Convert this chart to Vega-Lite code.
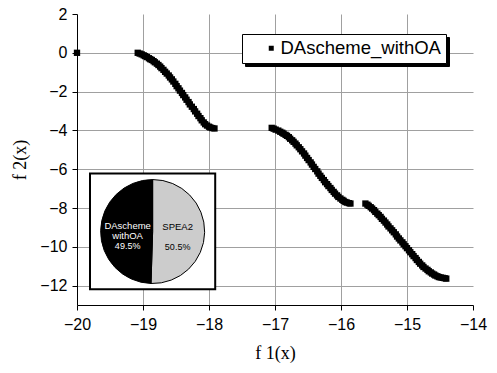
{
  "$schema": "https://vega.github.io/schema/vega-lite/v6.json",
  "autosize": {"type": "none"},
  "width": 396,
  "height": 291,
  "padding": {"left": 77, "top": 14, "right": 24, "bottom": 68},
  "background": "white",
  "config": {
    "view": {"stroke": null},
    "axis": {
      "domainColor": "black",
      "domainWidth": 1,
      "tickColor": "black",
      "tickWidth": 1,
      "gridColor": "#a0a0a0",
      "gridWidth": 1,
      "labelFont": "Liberation Sans",
      "labelFontSize": 16,
      "labelColor": "black",
      "titleFont": "Liberation Serif",
      "titleFontSize": 18,
      "titleFontWeight": "normal",
      "titleColor": "black"
    }
  },
  "datasets": {
    "front": [
      {"series": "DAscheme_withOA", "f1": -20.0, "f2": 0.0},
      {"series": "DAscheme_withOA", "f1": -19.08, "f2": 0.0},
      {"series": "DAscheme_withOA", "f1": -19.05, "f2": -0.04},
      {"series": "DAscheme_withOA", "f1": -19.02, "f2": -0.08},
      {"series": "DAscheme_withOA", "f1": -18.99, "f2": -0.13},
      {"series": "DAscheme_withOA", "f1": -18.968, "f2": -0.17},
      {"series": "DAscheme_withOA", "f1": -18.94, "f2": -0.22},
      {"series": "DAscheme_withOA", "f1": -18.91, "f2": -0.28},
      {"series": "DAscheme_withOA", "f1": -18.89, "f2": -0.33},
      {"series": "DAscheme_withOA", "f1": -18.866, "f2": -0.37},
      {"series": "DAscheme_withOA", "f1": -18.84, "f2": -0.43},
      {"series": "DAscheme_withOA", "f1": -18.82, "f2": -0.49},
      {"series": "DAscheme_withOA", "f1": -18.79, "f2": -0.56},
      {"series": "DAscheme_withOA", "f1": -18.766, "f2": -0.63},
      {"series": "DAscheme_withOA", "f1": -18.74, "f2": -0.71},
      {"series": "DAscheme_withOA", "f1": -18.72, "f2": -0.79},
      {"series": "DAscheme_withOA", "f1": -18.69, "f2": -0.88},
      {"series": "DAscheme_withOA", "f1": -18.665, "f2": -0.98},
      {"series": "DAscheme_withOA", "f1": -18.64, "f2": -1.07},
      {"series": "DAscheme_withOA", "f1": -18.61, "f2": -1.17},
      {"series": "DAscheme_withOA", "f1": -18.59, "f2": -1.27},
      {"series": "DAscheme_withOA", "f1": -18.563, "f2": -1.37},
      {"series": "DAscheme_withOA", "f1": -18.54, "f2": -1.48},
      {"series": "DAscheme_withOA", "f1": -18.51, "f2": -1.6},
      {"series": "DAscheme_withOA", "f1": -18.49, "f2": -1.72},
      {"series": "DAscheme_withOA", "f1": -18.463, "f2": -1.83},
      {"series": "DAscheme_withOA", "f1": -18.44, "f2": -1.95},
      {"series": "DAscheme_withOA", "f1": -18.41, "f2": -2.07},
      {"series": "DAscheme_withOA", "f1": -18.39, "f2": -2.18},
      {"series": "DAscheme_withOA", "f1": -18.361, "f2": -2.3},
      {"series": "DAscheme_withOA", "f1": -18.34, "f2": -2.42},
      {"series": "DAscheme_withOA", "f1": -18.31, "f2": -2.54},
      {"series": "DAscheme_withOA", "f1": -18.29, "f2": -2.66},
      {"series": "DAscheme_withOA", "f1": -18.26, "f2": -2.78},
      {"series": "DAscheme_withOA", "f1": -18.23, "f2": -2.9},
      {"series": "DAscheme_withOA", "f1": -18.21, "f2": -3.02},
      {"series": "DAscheme_withOA", "f1": -18.18, "f2": -3.14},
      {"series": "DAscheme_withOA", "f1": -18.159, "f2": -3.26},
      {"series": "DAscheme_withOA", "f1": -18.13, "f2": -3.37},
      {"series": "DAscheme_withOA", "f1": -18.11, "f2": -3.48},
      {"series": "DAscheme_withOA", "f1": -18.08, "f2": -3.59},
      {"series": "DAscheme_withOA", "f1": -18.058, "f2": -3.68},
      {"series": "DAscheme_withOA", "f1": -18.03, "f2": -3.75},
      {"series": "DAscheme_withOA", "f1": -18.0, "f2": -3.81},
      {"series": "DAscheme_withOA", "f1": -17.98, "f2": -3.85},
      {"series": "DAscheme_withOA", "f1": -17.95, "f2": -3.88},
      {"series": "DAscheme_withOA", "f1": -17.917, "f2": -3.9},
      {"series": "DAscheme_withOA", "f1": -17.05, "f2": -3.87},
      {"series": "DAscheme_withOA", "f1": -17.02, "f2": -3.91},
      {"series": "DAscheme_withOA", "f1": -16.99, "f2": -3.96},
      {"series": "DAscheme_withOA", "f1": -16.95, "f2": -4.01},
      {"series": "DAscheme_withOA", "f1": -16.92, "f2": -4.07},
      {"series": "DAscheme_withOA", "f1": -16.89, "f2": -4.12},
      {"series": "DAscheme_withOA", "f1": -16.87, "f2": -4.17},
      {"series": "DAscheme_withOA", "f1": -16.84, "f2": -4.23},
      {"series": "DAscheme_withOA", "f1": -16.818, "f2": -4.28},
      {"series": "DAscheme_withOA", "f1": -16.79, "f2": -4.35},
      {"series": "DAscheme_withOA", "f1": -16.77, "f2": -4.43},
      {"series": "DAscheme_withOA", "f1": -16.74, "f2": -4.51},
      {"series": "DAscheme_withOA", "f1": -16.718, "f2": -4.59},
      {"series": "DAscheme_withOA", "f1": -16.69, "f2": -4.68},
      {"series": "DAscheme_withOA", "f1": -16.67, "f2": -4.77},
      {"series": "DAscheme_withOA", "f1": -16.64, "f2": -4.87},
      {"series": "DAscheme_withOA", "f1": -16.616, "f2": -4.97},
      {"series": "DAscheme_withOA", "f1": -16.59, "f2": -5.08},
      {"series": "DAscheme_withOA", "f1": -16.56, "f2": -5.19},
      {"series": "DAscheme_withOA", "f1": -16.54, "f2": -5.3},
      {"series": "DAscheme_withOA", "f1": -16.514, "f2": -5.42},
      {"series": "DAscheme_withOA", "f1": -16.49, "f2": -5.53},
      {"series": "DAscheme_withOA", "f1": -16.46, "f2": -5.65},
      {"series": "DAscheme_withOA", "f1": -16.44, "f2": -5.76},
      {"series": "DAscheme_withOA", "f1": -16.414, "f2": -5.88},
      {"series": "DAscheme_withOA", "f1": -16.39, "f2": -5.99},
      {"series": "DAscheme_withOA", "f1": -16.36, "f2": -6.11},
      {"series": "DAscheme_withOA", "f1": -16.34, "f2": -6.23},
      {"series": "DAscheme_withOA", "f1": -16.313, "f2": -6.34},
      {"series": "DAscheme_withOA", "f1": -16.29, "f2": -6.45},
      {"series": "DAscheme_withOA", "f1": -16.26, "f2": -6.56},
      {"series": "DAscheme_withOA", "f1": -16.24, "f2": -6.67},
      {"series": "DAscheme_withOA", "f1": -16.211, "f2": -6.77},
      {"series": "DAscheme_withOA", "f1": -16.19, "f2": -6.87},
      {"series": "DAscheme_withOA", "f1": -16.16, "f2": -6.97},
      {"series": "DAscheme_withOA", "f1": -16.14, "f2": -7.07},
      {"series": "DAscheme_withOA", "f1": -16.111, "f2": -7.17},
      {"series": "DAscheme_withOA", "f1": -16.09, "f2": -7.26},
      {"series": "DAscheme_withOA", "f1": -16.06, "f2": -7.35},
      {"series": "DAscheme_withOA", "f1": -16.04, "f2": -7.43},
      {"series": "DAscheme_withOA", "f1": -16.009, "f2": -7.51},
      {"series": "DAscheme_withOA", "f1": -15.98, "f2": -7.58},
      {"series": "DAscheme_withOA", "f1": -15.96, "f2": -7.63},
      {"series": "DAscheme_withOA", "f1": -15.934, "f2": -7.69},
      {"series": "DAscheme_withOA", "f1": -15.91, "f2": -7.72},
      {"series": "DAscheme_withOA", "f1": -15.88, "f2": -7.75},
      {"series": "DAscheme_withOA", "f1": -15.857, "f2": -7.77},
      {"series": "DAscheme_withOA", "f1": -15.63, "f2": -7.77},
      {"series": "DAscheme_withOA", "f1": -15.6, "f2": -7.83},
      {"series": "DAscheme_withOA", "f1": -15.58, "f2": -7.89},
      {"series": "DAscheme_withOA", "f1": -15.55, "f2": -7.96},
      {"series": "DAscheme_withOA", "f1": -15.528, "f2": -8.03},
      {"series": "DAscheme_withOA", "f1": -15.5, "f2": -8.11},
      {"series": "DAscheme_withOA", "f1": -15.48, "f2": -8.2},
      {"series": "DAscheme_withOA", "f1": -15.45, "f2": -8.29},
      {"series": "DAscheme_withOA", "f1": -15.428, "f2": -8.37},
      {"series": "DAscheme_withOA", "f1": -15.4, "f2": -8.46},
      {"series": "DAscheme_withOA", "f1": -15.38, "f2": -8.56},
      {"series": "DAscheme_withOA", "f1": -15.35, "f2": -8.65},
      {"series": "DAscheme_withOA", "f1": -15.326, "f2": -8.75},
      {"series": "DAscheme_withOA", "f1": -15.3, "f2": -8.85},
      {"series": "DAscheme_withOA", "f1": -15.28, "f2": -8.95},
      {"series": "DAscheme_withOA", "f1": -15.25, "f2": -9.05},
      {"series": "DAscheme_withOA", "f1": -15.225, "f2": -9.15},
      {"series": "DAscheme_withOA", "f1": -15.2, "f2": -9.25},
      {"series": "DAscheme_withOA", "f1": -15.17, "f2": -9.36},
      {"series": "DAscheme_withOA", "f1": -15.15, "f2": -9.47},
      {"series": "DAscheme_withOA", "f1": -15.124, "f2": -9.57},
      {"series": "DAscheme_withOA", "f1": -15.1, "f2": -9.67},
      {"series": "DAscheme_withOA", "f1": -15.07, "f2": -9.77},
      {"series": "DAscheme_withOA", "f1": -15.05, "f2": -9.87},
      {"series": "DAscheme_withOA", "f1": -15.023, "f2": -9.97},
      {"series": "DAscheme_withOA", "f1": -15.0, "f2": -10.07},
      {"series": "DAscheme_withOA", "f1": -14.97, "f2": -10.18},
      {"series": "DAscheme_withOA", "f1": -14.95, "f2": -10.28},
      {"series": "DAscheme_withOA", "f1": -14.921, "f2": -10.38},
      {"series": "DAscheme_withOA", "f1": -14.9, "f2": -10.48},
      {"series": "DAscheme_withOA", "f1": -14.87, "f2": -10.58},
      {"series": "DAscheme_withOA", "f1": -14.85, "f2": -10.68},
      {"series": "DAscheme_withOA", "f1": -14.821, "f2": -10.78},
      {"series": "DAscheme_withOA", "f1": -14.8, "f2": -10.87},
      {"series": "DAscheme_withOA", "f1": -14.77, "f2": -10.96},
      {"series": "DAscheme_withOA", "f1": -14.75, "f2": -11.04},
      {"series": "DAscheme_withOA", "f1": -14.719, "f2": -11.12},
      {"series": "DAscheme_withOA", "f1": -14.69, "f2": -11.19},
      {"series": "DAscheme_withOA", "f1": -14.67, "f2": -11.26},
      {"series": "DAscheme_withOA", "f1": -14.64, "f2": -11.32},
      {"series": "DAscheme_withOA", "f1": -14.618, "f2": -11.38},
      {"series": "DAscheme_withOA", "f1": -14.59, "f2": -11.43},
      {"series": "DAscheme_withOA", "f1": -14.57, "f2": -11.48},
      {"series": "DAscheme_withOA", "f1": -14.54, "f2": -11.52},
      {"series": "DAscheme_withOA", "f1": -14.517, "f2": -11.56},
      {"series": "DAscheme_withOA", "f1": -14.49, "f2": -11.58},
      {"series": "DAscheme_withOA", "f1": -14.46, "f2": -11.6},
      {"series": "DAscheme_withOA", "f1": -14.43, "f2": -11.62},
      {"series": "DAscheme_withOA", "f1": -14.405, "f2": -11.64}
    ],
    "share": [
      {"method": "SPEA2", "name": "SPEA2", "share": 0.505},
      {"method": "DAscheme withOA", "name": "DAscheme\nwithOA", "share": 0.495}
    ]
  },
  "layer": [
    {
      "data": {"name": "front"},
      "mark": {"type": "point", "filled": true, "color": "black", "size": 40, "opacity": 1},
      "encoding": {
        "x": {
          "field": "f1",
          "type": "quantitative",
          "scale": {"domain": [-20, -14], "nice": false, "zero": false},
          "axis": {
            "title": "f 1(x)",
            "titlePadding": 12,
            "values": [-20, -19.5, -19, -18.5, -18, -17.5, -17, -16.5, -16, -15.5, -15, -14.5, -14],
            "format": "d",
            "labelExpr": "datum.value % 1 === 0 ? datum.label : ''",
            "labelPadding": 6,
            "labelFlush": false,
            "labelOverlap": false,
            "tickSize": {"condition": {"test": "datum.value % 1 === 0", "value": 5}, "value": 3},
            "gridOpacity": {"condition": {"test": "datum.value % 1 === 0 && datum.value > -20 && datum.value < -14", "value": 1}, "value": 0}
          }
        },
        "y": {
          "field": "f2",
          "type": "quantitative",
          "scale": {"domain": [-13, 2], "nice": false, "zero": false},
          "axis": {
            "title": "f 2(x)",
            "titlePadding": 10,
            "values": [-12, -10, -8, -6, -4, -2, 0, 2],
            "format": "d",
            "labelPadding": 5,
            "labelFlush": false,
            "labelOverlap": false,
            "tickSize": 5,
            "gridOpacity": {"condition": {"test": "datum.value < 1", "value": 1}, "value": 0}
          }
        },
        "shape": {
          "field": "series",
          "type": "nominal",
          "scale": {"range": ["square"]},
          "legend": {
            "orient": "none",
            "legendX": 165,
            "legendY": 20,
            "title": null,
            "zindex": 2,
            "fillColor": "white",
            "strokeColor": "black",
            "padding": 5,
            "symbolOffset": 15,
            "symbolSize": 25,
            "symbolFillColor": "black",
            "symbolStrokeColor": "black",
            "labelFont": "Liberation Sans",
            "labelFontSize": 18.5,
            "labelLimit": 400,
            "labelColor": "black",
            "labelOffset": 0
          }
        },
        "opacity": {
          "datum": "DAscheme_withOA",
          "type": "ordinal",
          "scale": {"range": [1]},
          "legend": {
            "orient": "none",
            "legendX": 168,
            "legendY": 23,
            "title": null,
            "zindex": 1,
            "fillColor": "black",
            "strokeColor": "black",
            "padding": 5,
            "symbolOffset": 15,
            "symbolType": "square",
            "symbolSize": 25,
            "symbolFillColor": "black",
            "symbolStrokeColor": "black",
            "labelFont": "Liberation Sans",
            "labelFontSize": 18.5,
            "labelLimit": 400,
            "labelColor": "black",
            "labelOpacity": 0,
            "labelOffset": 0
          }
        }
      }
    },
    {
      "data": {"values": [{"inset": "share"}]},
      "mark": {"type": "rect", "fill": "white", "stroke": "black", "strokeWidth": 2},
      "encoding": {
        "x": {"datum": -19.803, "type": "quantitative"},
        "x2": {"datum": -17.906},
        "y": {"datum": -6.22, "type": "quantitative"},
        "y2": {"datum": -12.19}
      }
    },
    {
      "data": {"name": "share"},
      "mark": {"type": "arc", "outerRadius": 52, "stroke": "black", "strokeWidth": 1},
      "encoding": {
        "x": {"datum": -18.854, "type": "quantitative"},
        "y": {"datum": -9.213, "type": "quantitative"},
        "theta": {"field": "share", "type": "quantitative", "stack": true},
        "order": {"field": "method", "sort": "descending"},
        "fill": {
          "field": "method",
          "type": "nominal",
          "scale": {"domain": ["SPEA2", "DAscheme withOA"], "range": ["#cccccc", "#000000"]},
          "legend": null
        }
      }
    },
    {
      "data": {"name": "share"},
      "mark": {"type": "text", "radius": 25, "font": "Liberation Sans", "fontSize": 9.5, "lineBreak": "\n", "lineHeight": 9.5, "dy": -5},
      "encoding": {
        "x": {"datum": -18.854, "type": "quantitative"},
        "y": {"datum": -9.213, "type": "quantitative"},
        "theta": {"field": "share", "type": "quantitative", "stack": true},
        "order": {"field": "method", "sort": "descending"},
        "text": {"field": "name"},
        "color": {
          "field": "method",
          "type": "nominal",
          "scale": {"domain": ["SPEA2", "DAscheme withOA"], "range": ["#000000", "#ffffff"]},
          "legend": null
        }
      }
    },
    {
      "data": {"name": "share"},
      "mark": {"type": "text", "radius": 25, "font": "Liberation Sans", "fontSize": 9, "dy": 15},
      "encoding": {
        "x": {"datum": -18.854, "type": "quantitative"},
        "y": {"datum": -9.213, "type": "quantitative"},
        "theta": {"field": "share", "type": "quantitative", "stack": true},
        "order": {"field": "method", "sort": "descending"},
        "text": {"field": "share", "format": ".1%"},
        "color": {
          "field": "method",
          "type": "nominal",
          "scale": {"domain": ["SPEA2", "DAscheme withOA"], "range": ["#000000", "#ffffff"]},
          "legend": null
        }
      }
    }
  ]
}
